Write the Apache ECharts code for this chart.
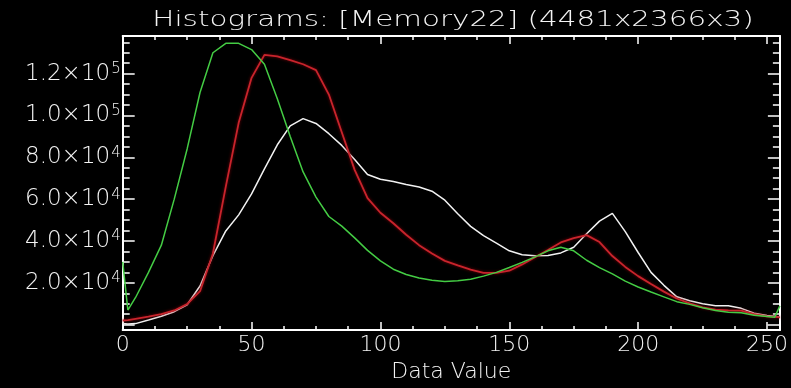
<!DOCTYPE html>
<html>
<head>
<meta charset="utf-8">
<script src="https://cdn.jsdelivr.net/npm/echarts@6/dist/echarts.min.js"></script>
<style>
  html, body { margin: 0; padding: 0; background: #000; }
  #chart { width: 791px; height: 388px; }
</style>
</head>
<body>
<div id="chart"></div>
<script>
// Pixel data values (bins) at which the histogram counts are sampled
const dataValues = [0, 2, 5, 10, 15, 20, 25, 30, 35, 40, 45, 50, 55, 60, 65, 70, 75, 80, 85, 90,
  95, 100, 105, 110, 115, 120, 125, 130, 135, 140, 145, 150, 155, 160, 165, 170, 175, 180, 185, 190,
  195, 200, 205, 210, 215, 220, 225, 230, 235, 240, 245, 250, 253, 255];

// Counts per channel
const redCounts = [2000, 2200, 2800, 3800, 5000, 6800, 9800, 16000, 34000, 66000, 96500, 118000, 129000, 128300,
  126500, 124500, 121700, 110000, 92000, 74000, 60500, 53500, 48500, 43000, 38000, 34000, 30500, 28300, 26300,
  24800, 24800, 25800, 28800, 32200, 35700, 39300, 41400, 42800, 39500, 32800, 27600, 23200, 19400, 15800,
  12500, 10200, 8300, 7200, 6800, 6700, 5000, 4000, 3700, 3500];

const greenCounts = [30000, 7000, 13000, 25000, 38000, 60000, 84000, 111000, 130000, 134500, 134500, 131500,
  124500, 108000, 90000, 73000, 61000, 51700, 47100, 41500, 35500, 30500, 26500, 24000, 22300, 21200, 20600,
  21000, 21700, 23200, 25000, 27300, 29800, 32400, 35300, 37000, 35300, 30800, 27300, 24300, 20800, 18000,
  15600, 13300, 11000, 9700, 8100, 6800, 5900, 5700, 4500, 3900, 3600, 9000];

const whiteCounts = [500, 300, 500, 2200, 4000, 6200, 9500, 18500, 33000, 44800, 52500, 62500, 74500, 86000,
  95000, 98500, 96200, 91300, 85700, 79000, 71800, 69500, 68400, 67000, 65800, 63800, 59500, 53000, 47000,
  42600, 39000, 35300, 33400, 32900, 33100, 34300, 37000, 43500, 49500, 53200, 44500, 34500, 25000, 18800,
  13300, 11400, 10000, 9000, 9000, 7800, 5500, 4400, 4000, 3500];

// Labelled ticks
const xTickValues = [0, 50, 100, 150, 200, 250];
const yTickValues = [20000, 40000, 60000, 80000, 100000, 120000];
const yTickMantissas = ['2.0', '4.0', '6.0', '8.0', '1.0', '1.2'];
const yTickExponents = ['4', '4', '4', '4', '5', '5'];

const titleText = 'Histograms: [Memory22] (4481x2366x3)';
const xName = 'Data Value';

const FONT = 'DejaVu Sans';
const WEIGHT = 200;
const INK = '#f4f4f4';
const AXIS = '#ffffff';

const pairs = (ys) => dataValues.map((x, i) => [x, ys[i]]);

const xBase = {
  type: 'value', min: 0, max: 255, splitLine: { show: false }, gridIndex: 0
};
const yBase = {
  type: 'value', min: -2600, max: 138000, splitLine: { show: false }, gridIndex: 0
};
const tickStyle = { color: AXIS, width: 1.5 };

const option = {
  backgroundColor: '#000',
  animation: false,
  textStyle: { fontFamily: FONT, fontWeight: WEIGHT },
  grid: { left: 122.7, right: 2, top: 36, bottom: 41.3, containLabel: false },
  graphic: [{
    type: 'text',
    x: 453, y: 20.5,
    scaleX: 1.4,
    silent: true,
    style: {
      text: titleText,
      fill: INK,
      fontFamily: FONT,
      fontWeight: WEIGHT,
      fontSize: 21,
      align: 'center', verticalAlign: 'middle',
      textAlign: 'center', textVerticalAlign: 'middle'
    }
  }],
  xAxis: [
    {
      ...xBase, position: 'bottom', interval: 50,
      axisLine: { show: true, onZero: false, lineStyle: { color: AXIS, width: 2 } },
      axisTick: { show: true, inside: true, length: 8, lineStyle: tickStyle },
      axisLabel: {
        color: INK, fontSize: 22, fontFamily: FONT, fontWeight: WEIGHT, margin: 4,
        formatter: (v) => xTickValues.indexOf(v) >= 0 ? String(v) : ''
      },
      name: xName, nameLocation: 'middle', nameGap: 19,
      nameTextStyle: { color: INK, fontSize: 22, fontFamily: FONT, fontWeight: WEIGHT }
    },
    {
      ...xBase, position: 'bottom', interval: 12.5,
      axisLine: { show: false, onZero: false },
      axisTick: { show: true, inside: true, length: 4, lineStyle: tickStyle },
      axisLabel: { show: false }
    },
    {
      ...xBase, position: 'top', interval: 50,
      axisLine: { show: true, onZero: false, lineStyle: { color: AXIS, width: 2 } },
      axisTick: { show: true, inside: true, length: 8, lineStyle: tickStyle },
      axisLabel: { show: false }
    },
    {
      ...xBase, position: 'top', interval: 12.5,
      axisLine: { show: false, onZero: false },
      axisTick: { show: true, inside: true, length: 4, lineStyle: tickStyle },
      axisLabel: { show: false }
    }
  ],
  yAxis: [
    {
      ...yBase, position: 'left', splitNumber: 7, minInterval: 20000, maxInterval: 20000,
      axisLine: { show: true, onZero: false, lineStyle: { color: AXIS, width: 2 } },
      axisTick: { show: true, inside: true, length: 12, lineStyle: tickStyle },
      axisLabel: {
        margin: 2, showMinLabel: false, showMaxLabel: false,
        formatter: (v) => {
          const i = yTickValues.indexOf(v);
          return i < 0 ? '' : '{m|' + yTickMantissas[i] + '×10}{e|' + yTickExponents[i] + '}';
        },
        rich: {
          m: { color: INK, fontSize: 23, fontFamily: FONT, fontWeight: WEIGHT, lineHeight: 24 },
          e: { color: INK, fontSize: 15, fontFamily: FONT, fontWeight: WEIGHT, verticalAlign: 'top', lineHeight: 24, padding: [0, 0, 12, 1] }
        }
      }
    },
    {
      ...yBase, position: 'left', splitNumber: 28, minInterval: 5000, maxInterval: 5000,
      axisLine: { show: false, onZero: false },
      axisTick: { show: true, inside: true, length: 7, lineStyle: tickStyle },
      axisLabel: { show: false }
    },
    {
      ...yBase, position: 'right', splitNumber: 7, minInterval: 20000, maxInterval: 20000,
      axisLine: { show: true, onZero: false, lineStyle: { color: AXIS, width: 2 } },
      axisTick: { show: true, inside: true, length: 12, lineStyle: tickStyle },
      axisLabel: { show: false }
    },
    {
      ...yBase, position: 'right', splitNumber: 28, minInterval: 5000, maxInterval: 5000,
      axisLine: { show: false, onZero: false },
      axisTick: { show: true, inside: true, length: 7, lineStyle: tickStyle },
      axisLabel: { show: false }
    }
  ],
  series: [
    {
      name: 'White', type: 'line', xAxisIndex: 0, yAxisIndex: 0,
      data: pairs(whiteCounts), showSymbol: false, symbol: 'none',
      lineStyle: { color: '#f2f2f2', width: 1.5 }
    },
    {
      name: 'Red', type: 'line', xAxisIndex: 0, yAxisIndex: 0,
      data: pairs(redCounts), showSymbol: false, symbol: 'none',
      lineStyle: { color: '#c8242c', width: 1.8, shadowColor: 'rgba(140,0,10,0.9)', shadowBlur: 3 }
    },
    {
      name: 'Green', type: 'line', xAxisIndex: 0, yAxisIndex: 0,
      data: pairs(greenCounts), showSymbol: false, symbol: 'none',
      lineStyle: { color: '#44cc44', width: 1.5 }
    }
  ]
};

const chart = echarts.init(document.getElementById('chart'), null, { renderer: 'canvas' });
chart.setOption(option);
</script>
</body>
</html>
